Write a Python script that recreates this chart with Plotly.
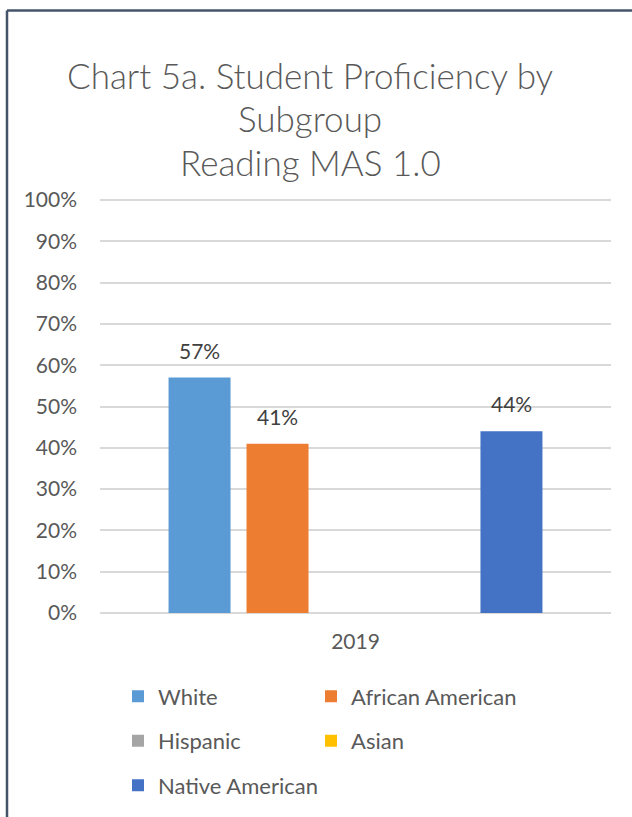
import plotly.graph_objects as go

# ---- data -------------------------------------------------------------
categories = ["2019"]
subgroups = ["White", "African American", "Hispanic", "Asian", "Native American"]
proficiency = [0.57, 0.41, None, None, 0.44]          # share proficient, 2019
bar_colors = ["#5B9BD5", "#ED7D31", "#A5A5A5", "#FFC000", "#4472C4"]
legend_of = ["legend", "legend2", "legend", "legend2", "legend"]
y_tick_values = [0.0, 0.1, 0.2, 0.3, 0.4, 0.5, 0.6, 0.7, 0.8, 0.9, 1.0]
y_tick_labels = ["0%", "10%", "20%", "30%", "40%", "50%", "60%", "70%", "80%", "90%", "100%"]
title_lines = ["Chart 5a. Student Proficiency by", "Subgroup", "Reading MAS 1.0"]

# ---- page geometry (pixels) ------------------------------------------
W, H = 632, 817
TOP_PX, ZERO_PX = 199.7, 613.0          # where 100% and 0% sit on the page
PAD = 0.005                              # small range padding so edge gridlines show
UNIT = ZERO_PX - TOP_PX                  # pixels per 100%
M_L, M_R = 100, 21
M_T = TOP_PX - PAD * UNIT
M_B = H - (ZERO_PX + PAD * UNIT)
PW = W - M_L - M_R
PH = H - M_T - M_B
BARGAP = 0.237
BARGROUPGAP = 0.205

FONT = "Lato"
GREY = "#595959"


def px_x(p):
    return (p - M_L) / PW


def px_y(p):
    return (H - M_B - p) / PH


fig = go.Figure()
for name, val, col, leg in zip(subgroups, proficiency, bar_colors, legend_of):
    fig.add_trace(go.Bar(
        x=categories, y=[val], name=name,
        marker=dict(color=col, line=dict(width=0)),
        legend=leg, legendgroup=name,
        hovertemplate="%{y:.0%}<extra>" + name + "</extra>",
    ))

# value labels above each bar, positioned at the bar's slot in the group
n = len(subgroups)
slot = (1 - BARGAP) / n
annotations = []
for i, val in enumerate(proficiency):
    if val is None:
        continue
    annotations.append(dict(
        x=(i - (n - 1) / 2) * slot, y=val, xref="x", yref="y",
        text=f"{val:.0%}", showarrow=False, yanchor="bottom", yshift=13,
        font=dict(family=FONT, size=21, color="#404040"),
    ))

# three-line chart title
title_centers = [75, 118, 162]
for line, yc in zip(title_lines, title_centers):
    annotations.append(dict(
        x=px_x(310), y=px_y(yc), xref="paper", yref="paper",
        text=line, showarrow=False, xanchor="center", yanchor="middle",
        font=dict(family=FONT, size=35, color=GREY, weight=300),
    ))

# chart-area frame (left and top edges)
frame = dict(color="#44546A", width=2.5)
shapes = [
    dict(type="line", xref="paper", yref="paper", x0=px_x(7), x1=px_x(7),
         y0=px_y(10), y1=px_y(H + 20), line=frame),
    dict(type="line", xref="paper", yref="paper", x0=px_x(7), x1=px_x(W + 20),
         y0=px_y(10), y1=px_y(10), line=frame),
]

legend_common = dict(
    orientation="v", xanchor="left", yanchor="top", xref="paper", yref="paper",
    font=dict(family=FONT, size=22, color=GREY), tracegroupgap=13,
    bgcolor="rgba(0,0,0,0)", itemclick=False, itemdoubleclick=False,
)

fig.update_layout(
    width=W, height=H,
    margin=dict(l=M_L, r=M_R, t=M_T, b=M_B, pad=0, autoexpand=False),
    paper_bgcolor="white", plot_bgcolor="white",
    barmode="group", bargap=BARGAP, bargroupgap=BARGROUPGAP,
    showlegend=True,
    legend=dict(x=px_x(118), y=px_y(675.5), **legend_common),
    legend2=dict(x=px_x(311), y=px_y(675.5), **legend_common),
    annotations=annotations, shapes=shapes,
    xaxis=dict(
        showgrid=False, zeroline=False, showline=False, ticks="",
        tickfont=dict(family=FONT, size=21, color=GREY), ticklabelstandoff=12,
    ),
    yaxis=dict(
        range=[-PAD, 1 + PAD], tickvals=y_tick_values, ticktext=y_tick_labels,
        showgrid=True, gridcolor="#D9D9D9", gridwidth=1.6,
        zeroline=False, showline=False, ticks="",
        tickfont=dict(family=FONT, size=21, color=GREY), ticklabelstandoff=22,
    ),
)

fig.write_html("out.html")
